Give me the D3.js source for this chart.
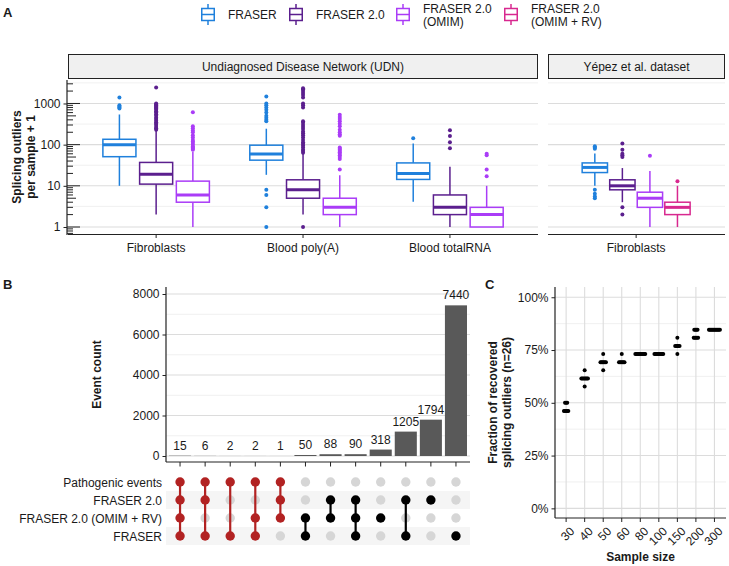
<!DOCTYPE html>
<html><head><meta charset="utf-8">
<script src="https://cdn.jsdelivr.net/npm/d3@7"></script>
<style>
body{margin:0;background:#fff;}
svg text{font-family:"Liberation Sans",Arial,sans-serif;fill:#1a1a1a;}
</style></head>
<body>
<svg id="chart" width="729" height="566"></svg>
<script>
// ---------------- DATA ----------------
const methods = ["FRASER","FRASER 2.0","FRASER 2.0 (OMIM)","FRASER 2.0 (OMIM + RV)"];
const methodColors = ["#1f80dc","#5b1f8e","#aa3cf7","#d8288f"];
const legendLabels = [["FRASER"],["FRASER 2.0"],["FRASER 2.0","(OMIM)"],["FRASER 2.0","(OMIM + RV)"]];
const udnTissues = ["Fibroblasts","Blood poly(A)","Blood totalRNA"];
const yepezTissues = ["Fibroblasts"];
const facetTitles = ["Undiagnosed Disease Network (UDN)","Yépez et al. dataset"];
const logTicks = [1,10,100,1000];
// box stats: [lowWhisker, q1, median, q3, highWhisker]
const udnStats = [
  [[10,51,100,135,540],[2,11,19,37,215],[1,4,6,13,67]],
  [[18.5,42,59,97,244],[2,5,8,14,62],[1,2,3,5,18]],
  [[4.1,14.3,20,36,106],[1,2,3,6,29],[1,1,2,3,10]]
];
const udnOutliers = [
  [[750,800,850,900,1400],
   [230,250,270,300,320,350,380,420,450,500,550,600,650,700,750,800,850,900,950,1000,2450],
   [75,80,85,90,100,110,120,130,150,170,200,220,250,280,610]],
  [[1,3,6,8,370,400,450,500,600,700,800,900,1000,1480],
   [1,64,70,75,85,95,105,115,130,150,170,190,210,240,270,300,340,370,800,900,1000,1400,1600,1800,2000,2200,2350],
   [25,45,50,55,60,65,70,75,80,85,165,180,200,230,280,320,370,420,470,530]],
  [[143],[82,115,163,223],[17,25,55,60]]
];
const yepezStats = [[10,21,28,36,61],[4,8,10,14,27],[1,3,5,7,23],[1,2,3,4,10]];
const yepezOutliers = [[5,5.5,6.4,8,80,85,92],[2,3,50,55,60,75,106],[54],[13]];

// Panel B (UpSet)
const setNames = ["Pathogenic events","FRASER 2.0","FRASER 2.0 (OMIM + RV)","FRASER"];
const intersectionCounts = [15,6,2,2,1,50,88,90,318,1205,1794,7440];
// membership per intersection: indices of sets (0..3)
const intersectionSets = [[0,1,2,3],[0,1,3],[0,3],[0,2,3],[0,1,2],[2,3],[1,2],[1,2,3],[2],[1,3],[1],[3]];
const barTicks = [0,2000,4000,6000,8000];

// Panel C
const sampleSizes = ["30","40","50","60","80","100","150","200","300"];
const totalOutliers = 26;
// recovered outliers (out of 26) per run, per sample size
const recovered = [
  [12,12,12,12,12,13,13,13],
  [15,16,16,16,16,16,16,16,17],
  [17,18,18,18,18,18,18,19],
  [18,18,18,18,18,18,19],
  [19,19,19,19,19,19,19,19,19,19],
  [19,19,19,19,19,19,19,19,19],
  [19,20,20,20,20,20,21],
  [21,21,21,21,21,22,22,22,22],
  [22,22,22,22,22,22,22,22,22,22,22,22]
];
const pctTicks = [0,0.25,0.5,0.75,1];

// ---------------- DRAW ----------------
const svg = d3.select("#chart");
const FS = 12;
const FF = "Liberation Sans, Arial, sans-serif";
const gridMajor = "#dcdcdc", gridMinor = "#ececec";

// Panel labels
[["A",3,17],["B",3,289],["C",485,289]].forEach(([t,x,y])=>svg.append("text").attr("x",x).attr("y",y).attr("font-size",13).attr("font-weight","bold").text(t));

// Legend
const legX = [201,289,396,504];
methods.forEach((m,i)=>{
  const g = svg.append("g").attr("transform",`translate(${legX[i]},0)`);
  const c = methodColors[i];
  g.append("line").attr("x1",7).attr("x2",7).attr("y1",4).attr("y2",25).attr("stroke",c).attr("stroke-width",1.5);
  g.append("rect").attr("x",0.75).attr("y",8.5).attr("width",12.5).attr("height",12).attr("fill","#fff").attr("stroke",c).attr("stroke-width",1.5);
  g.append("line").attr("x1",0.75).attr("x2",13.25).attr("y1",14.5).attr("y2",14.5).attr("stroke",c).attr("stroke-width",1.5);
  const lines = legendLabels[i];
  const t = g.append("text").attr("x",27).attr("font-size",FS);
  if(lines.length===1){ t.attr("y",19).text(lines[0]); }
  else { lines.forEach((l,k)=>t.append("tspan").attr("x",27).attr("y",12.5+k*13.5).text(l)); }
});

// ---------- Panel A ----------
const aTop = 80, aBot = 234;
const yA = d3.scaleLog().domain([Math.pow(10,-0.17),Math.pow(10,3.57)]).range([aBot,aTop]);
const unit = 146.9;
const udnCenter = d3.scalePoint().domain(udnTissues).range([68+0.6*unit, 68+2.6*unit]);
const yepCenter = d3.scalePoint().domain(yepezTissues).range([548+0.6*unit,548+0.6*unit]).padding(0);
const panelsA = [{x0:68,x1:538,title:facetTitles[0]},{x0:548,x1:725,title:facetTitles[1]}];

panelsA.forEach(p=>{
  const minors = [0.5,1.5,2.5,3.5].map(e=>Math.pow(10,e));
  minors.forEach(v=>svg.append("line").attr("x1",p.x0).attr("x2",p.x1).attr("y1",yA(v)).attr("y2",yA(v)).attr("stroke",gridMinor).attr("stroke-width",0.8));
  logTicks.forEach(v=>svg.append("line").attr("x1",p.x0).attr("x2",p.x1).attr("y1",yA(v)).attr("y2",yA(v)).attr("stroke",gridMajor).attr("stroke-width",1.1));
  svg.append("rect").attr("x",p.x0+0.5).attr("y",54.5).attr("width",p.x1-p.x0-1).attr("height",24).attr("fill","#f0f0f0").attr("stroke","#222").attr("stroke-width",1);
  svg.append("text").attr("x",(p.x0+p.x1)/2).attr("y",70.5).attr("text-anchor","middle").attr("font-size",FS).text(p.title);
  svg.append("line").attr("x1",p.x0).attr("x2",p.x1).attr("y1",aBot+0.5).attr("y2",aBot+0.5).attr("stroke","#222").attr("stroke-width",1.2);
});

for(let d=-1; d<=3; d++){
  for(let k=1;k<=9;k++){
    const v = k*Math.pow(10,d);
    if(v<yA.domain()[0]||v>yA.domain()[1]) continue;
    const len = k===1?13:(k===5?9:6);
    svg.append("line").attr("x1",67).attr("x2",67+len).attr("y1",yA(v)).attr("y2",yA(v)).attr("stroke","#222").attr("stroke-width",1);
  }
}
const axA = svg.append("g").attr("transform","translate(67,0)").call(d3.axisLeft(yA).tickValues(logTicks).tickFormat(d3.format("d")).tickSize(3.5).tickPadding(3));
axA.select(".domain").attr("stroke","#222").attr("stroke-width",1.2).attr("d",`M0,${aTop}V${aBot+1}`);
axA.selectAll(".tick line").attr("stroke","#222");
axA.selectAll("text").attr("font-size",FS).attr("fill","#1a1a1a").attr("font-family",FF);

function xTicksA(scale, tissues){
  tissues.forEach(t=>{
    const x = scale(t);
    svg.append("line").attr("x1",x).attr("x2",x).attr("y1",aBot).attr("y2",aBot+4).attr("stroke","#222");
    svg.append("text").attr("x",x).attr("y",aBot+17.5).attr("text-anchor","middle").attr("font-size",FS).text(t);
  });
}
xTicksA(udnCenter, udnTissues);
xTicksA(yepCenter, yepezTissues);

const yt = svg.append("text").attr("transform",`translate(0,${(aTop+aBot)/2}) rotate(-90)`).attr("text-anchor","middle").attr("font-size",FS).attr("font-weight","bold");
yt.append("tspan").attr("x",0).attr("y",21).text("Splicing outliers");
yt.append("tspan").attr("x",0).attr("y",35).text("per sample + 1");

function drawBox(cx, w, s, outs, color){
  const g = svg.append("g");
  const [lo,q1,md,q3,hi] = s;
  g.append("line").attr("x1",cx).attr("x2",cx).attr("y1",yA(hi)).attr("y2",yA(q3)).attr("stroke",color).attr("stroke-width",1.5);
  g.append("line").attr("x1",cx).attr("x2",cx).attr("y1",yA(q1)).attr("y2",yA(lo)).attr("stroke",color).attr("stroke-width",1.5);
  g.append("rect").attr("x",cx-w/2).attr("width",w).attr("y",yA(q3)).attr("height",Math.max(0,yA(q1)-yA(q3))).attr("fill","#fff").attr("stroke",color).attr("stroke-width",1.5);
  g.append("line").attr("x1",cx-w/2).attr("x2",cx+w/2).attr("y1",yA(md)).attr("y2",yA(md)).attr("stroke",color).attr("stroke-width",3);
  outs.forEach(v=>g.append("circle").attr("cx",cx).attr("cy",yA(v)).attr("r",2).attr("fill",color));
}
const dodge = 0.75*unit;
udnTissues.forEach((t,i)=>{
  const n=3, slot=dodge/n;
  for(let j=0;j<n;j++){
    const cx = udnCenter(t) - dodge/2 + slot*(j+0.5);
    drawBox(cx, slot*0.9, udnStats[i][j], udnOutliers[i][j], methodColors[j]);
  }
});
yepezTissues.forEach(t=>{
  const n=4, slot=dodge/n;
  for(let j=0;j<n;j++){
    const cx = yepCenter(t) - dodge/2 + slot*(j+0.5);
    drawBox(cx, slot*0.92, yepezStats[j], yepezOutliers[j], methodColors[j]);
  }
});

// ---------- Panel B ----------
const bL=166, bR=470, bTop=287, bBot=462;
const xB = d3.scaleBand().domain(d3.range(intersectionCounts.length)).range([bL+1.5, bR-1.5]).paddingInner(0.12).paddingOuter(0.06);
const yB = d3.scaleLinear().domain([-296,8346]).range([bBot,bTop]);
[1000,3000,5000,7000].forEach(v=>svg.append("line").attr("x1",bL).attr("x2",bR).attr("y1",yB(v)).attr("y2",yB(v)).attr("stroke",gridMinor).attr("stroke-width",0.8));
barTicks.forEach(v=>svg.append("line").attr("x1",bL).attr("x2",bR).attr("y1",yB(v)).attr("y2",yB(v)).attr("stroke",gridMajor).attr("stroke-width",1.1));
svg.append("g").selectAll("rect").data(intersectionCounts).join("rect")
  .attr("x",(d,i)=>xB(i)).attr("width",xB.bandwidth()).attr("y",d=>yB(d)).attr("height",d=>yB(0)-yB(d)).attr("fill","#595959");
svg.append("g").selectAll("text").data(intersectionCounts).join("text")
  .attr("x",(d,i)=>xB(i)+xB.bandwidth()/2).attr("y",d=>yB(d)-6).attr("text-anchor","middle").attr("font-size",FS).text(d=>d);
const axBy = svg.append("g").attr("transform",`translate(${bL},0)`).call(d3.axisLeft(yB).tickValues(barTicks).tickFormat(d3.format("d")).tickSize(3.5).tickPadding(3));
axBy.select(".domain").attr("d",`M0,${bTop}V${bBot}`).attr("stroke","#222").attr("stroke-width",1.2);
axBy.selectAll("text").attr("font-size",FS).attr("fill","#1a1a1a").attr("font-family",FF);
axBy.selectAll(".tick line").attr("stroke","#222");
svg.append("line").attr("x1",bL).attr("x2",bR).attr("y1",bBot).attr("y2",bBot).attr("stroke","#222").attr("stroke-width",1.2);
intersectionCounts.forEach((d,i)=>{const x=xB(i)+xB.bandwidth()/2; svg.append("line").attr("x1",x).attr("x2",x).attr("y1",bBot).attr("y2",bBot+4.5).attr("stroke","#222");});
svg.append("text").attr("transform",`translate(101,${(bTop+bBot)/2}) rotate(-90)`).attr("text-anchor","middle").attr("font-size",FS).attr("font-weight","bold").text("Event count");

const yM = d3.scaleBand().domain(d3.range(setNames.length)).range([473,545]);
setNames.forEach((s,r)=>{
  if(r%2===1) svg.append("rect").attr("x",bL).attr("width",bR-bL).attr("y",yM(r)).attr("height",yM.bandwidth()).attr("fill","#f5f5f5");
  svg.append("text").attr("x",162).attr("y",yM(r)+yM.bandwidth()/2+4.5).attr("text-anchor","end").attr("font-size",FS).text(s);
});
intersectionSets.forEach((sets,i)=>{
  const x = xB(i)+xB.bandwidth()/2;
  const col = sets.includes(0)?"#b22222":"#000";
  setNames.forEach((s,r)=>{ if(!sets.includes(r)) svg.append("circle").attr("cx",x).attr("cy",yM(r)+yM.bandwidth()/2).attr("r",4.7).attr("fill","#d6d6d6"); });
  if(sets.length>1){
    const ys = sets.map(r=>yM(r)+yM.bandwidth()/2);
    svg.append("line").attr("x1",x).attr("x2",x).attr("y1",d3.min(ys)).attr("y2",d3.max(ys)).attr("stroke",col).attr("stroke-width",2.2);
  }
  sets.forEach(r=>svg.append("circle").attr("cx",x).attr("cy",yM(r)+yM.bandwidth()/2).attr("r",4.7).attr("fill",col));
});

// ---------- Panel C ----------
const cL=555, cR=726, cTop=287, cBot=518;
const xC = d3.scalePoint().domain(sampleSizes).range([cL+0.6*18.54, cL+8.6*18.54]);
const yC = d3.scaleLinear().domain([-0.05,1.05]).range([518.9,286.7]);
[0.125,0.375,0.625,0.875].forEach(v=>svg.append("line").attr("x1",cL).attr("x2",cR).attr("y1",yC(v)).attr("y2",yC(v)).attr("stroke",gridMinor).attr("stroke-width",0.8));
pctTicks.forEach(v=>svg.append("line").attr("x1",cL).attr("x2",cR).attr("y1",yC(v)).attr("y2",yC(v)).attr("stroke",gridMajor).attr("stroke-width",1.1));
sampleSizes.forEach(s=>svg.append("line").attr("x1",xC(s)).attr("x2",xC(s)).attr("y1",cTop).attr("y2",cBot).attr("stroke",gridMajor).attr("stroke-width",1.1));
const axCy = svg.append("g").attr("transform",`translate(${cL},0)`).call(d3.axisLeft(yC).tickValues(pctTicks).tickFormat(d3.format(".0%")).tickSize(3.5).tickPadding(3));
axCy.select(".domain").attr("d",`M0,${cTop}V${cBot}`).attr("stroke","#222").attr("stroke-width",1.2);
axCy.selectAll("text").attr("font-size",FS).attr("fill","#1a1a1a").attr("font-family",FF);
axCy.selectAll(".tick line").attr("stroke","#222");
svg.append("line").attr("x1",cL).attr("x2",cR).attr("y1",cBot).attr("y2",cBot).attr("stroke","#222").attr("stroke-width",1.2);
sampleSizes.forEach(s=>{
  const x=xC(s);
  svg.append("line").attr("x1",x).attr("x2",x).attr("y1",cBot).attr("y2",cBot+4).attr("stroke","#222");
  svg.append("text").attr("transform",`translate(${x+3},${cBot+8}) rotate(-45)`).attr("text-anchor","end").attr("dy","0.71em").attr("font-size",FS).text(s);
});
// points: runs with the same value spread evenly around the category
recovered.forEach((runs,i)=>{
  const groups = d3.group(runs, v=>v);
  groups.forEach((arr,v)=>{
    const n = arr.length;
    arr.forEach((_,k)=>{
      const off = n>1 ? (k-(n-1)/2)*Math.min(1.1, 11/(n-1)) : 0;
      svg.append("circle").attr("cx",xC(sampleSizes[i])+off).attr("cy",yC(v/totalOutliers)).attr("r",2).attr("fill","#000");
    });
  });
});
const ytC = svg.append("text").attr("transform",`translate(0,${(cTop+cBot)/2}) rotate(-90)`).attr("text-anchor","middle").attr("font-size",FS).attr("font-weight","bold");
ytC.append("tspan").attr("x",0).attr("y",497).text("Fraction of recovered");
ytC.append("tspan").attr("x",0).attr("y",511).text("splicing outliers (n=26)");
svg.append("text").attr("x",(cL+cR)/2).attr("y",561).attr("text-anchor","middle").attr("font-size",FS).attr("font-weight","bold").text("Sample size");
</script>
</body></html>
